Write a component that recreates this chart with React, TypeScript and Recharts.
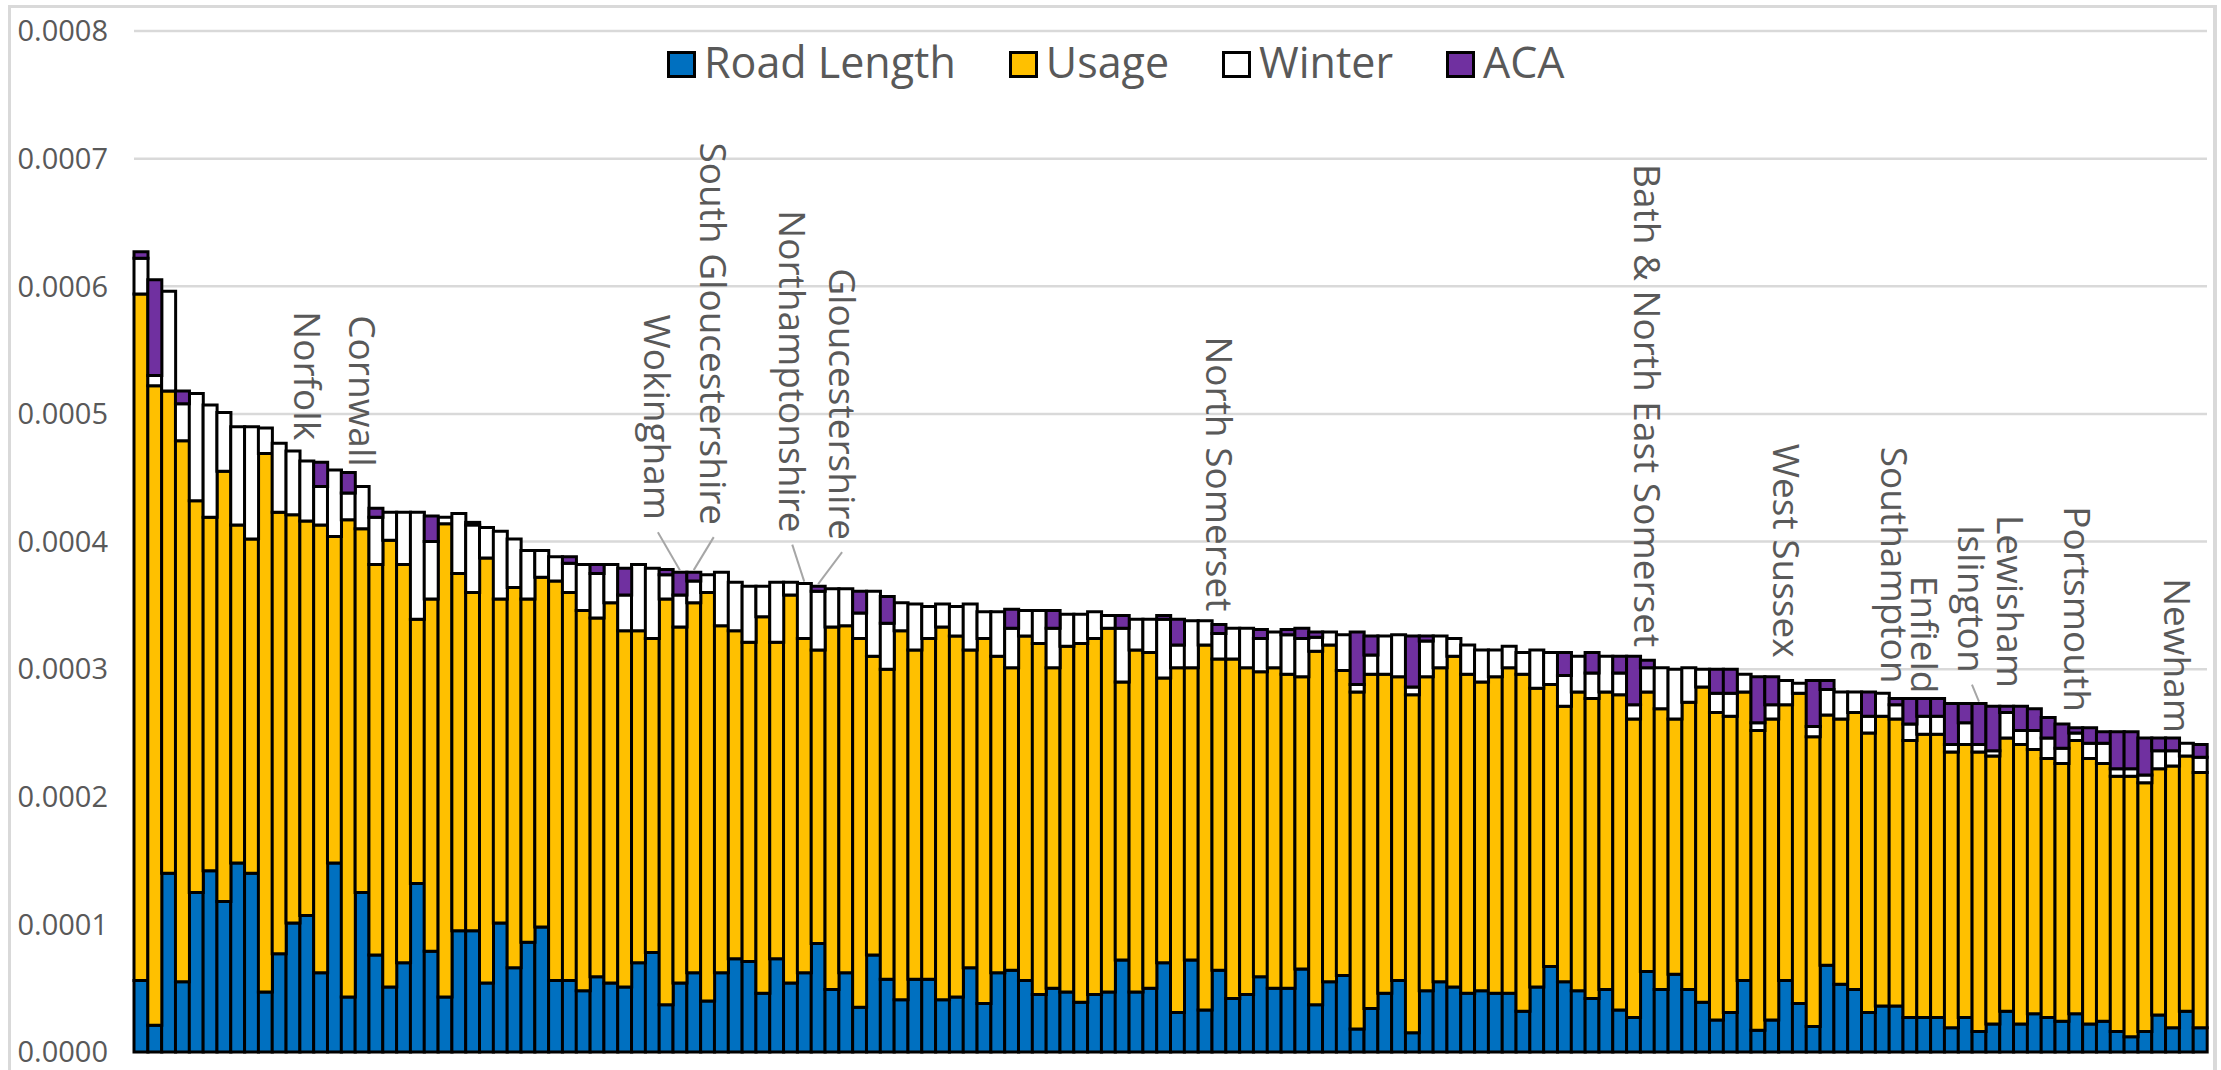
import { Bar, CartesianGrid, ComposedChart, LabelList, Legend, Line, XAxis, YAxis } from 'recharts';

// values, in units of 0.0001
const UNIT = 1e-4;

const roadLength = [
  0.56, 0.21, 1.40, 0.55, 1.25, 1.42, 1.18, 1.48, 1.40, 0.47,
  0.77, 1.01, 1.07, 0.62, 1.48, 0.43, 1.25, 0.76, 0.51, 0.70,
  1.32, 0.79, 0.43, 0.95, 0.95, 0.54, 1.01, 0.66, 0.86, 0.98,
  0.56, 0.56, 0.48, 0.59, 0.54, 0.51, 0.70, 0.78, 0.37, 0.54,
  0.62, 0.40, 0.62, 0.73, 0.71, 0.46, 0.73, 0.54, 0.62, 0.85,
  0.49, 0.62, 0.35, 0.76, 0.57, 0.41, 0.57, 0.57, 0.41, 0.43,
  0.66, 0.38, 0.62, 0.64, 0.56, 0.45, 0.50, 0.47, 0.39, 0.45,
  0.47, 0.72, 0.47, 0.50, 0.70, 0.31, 0.72, 0.33, 0.64, 0.42,
  0.45, 0.59, 0.50, 0.50, 0.65, 0.37, 0.55, 0.60, 0.18, 0.34,
  0.46, 0.56, 0.15, 0.48, 0.55, 0.51, 0.46, 0.48, 0.46, 0.46,
  0.32, 0.51, 0.67, 0.55, 0.48, 0.42, 0.49, 0.33, 0.27, 0.63,
  0.49, 0.61, 0.49, 0.39, 0.25, 0.31, 0.56, 0.17, 0.25, 0.56,
  0.38, 0.20, 0.68, 0.53, 0.49, 0.31, 0.36, 0.36, 0.27, 0.27,
  0.27, 0.19, 0.27, 0.16, 0.22, 0.32, 0.22, 0.30, 0.27, 0.24,
  0.30, 0.22, 0.24, 0.16, 0.12, 0.16, 0.29, 0.19, 0.32, 0.19,
];

const usage = [
  5.38, 5.01, 3.78, 4.24, 3.07, 2.77, 3.37, 2.65, 2.62, 4.22,
  3.46, 3.20, 3.09, 3.51, 2.56, 3.74, 2.85, 3.06, 3.50, 3.12,
  2.07, 2.76, 3.71, 2.80, 2.65, 3.33, 2.54, 2.98, 2.69, 2.74,
  3.13, 3.04, 2.98, 2.81, 2.98, 2.79, 2.60, 2.46, 3.18, 2.79,
  2.90, 3.20, 2.72, 2.57, 2.50, 2.95, 2.48, 3.04, 2.62, 2.30,
  2.84, 2.72, 2.89, 2.34, 2.43, 2.89, 2.58, 2.67, 2.92, 2.83,
  2.49, 2.86, 2.48, 2.37, 2.70, 2.75, 2.51, 2.71, 2.81, 2.79,
  2.85, 2.18, 2.68, 2.63, 2.23, 2.70, 2.29, 2.86, 2.44, 2.66,
  2.56, 2.39, 2.51, 2.46, 2.29, 2.77, 2.64, 2.39, 2.64, 2.62,
  2.50, 2.38, 2.65, 2.46, 2.46, 2.59, 2.50, 2.42, 2.48, 2.55,
  2.64, 2.34, 2.21, 2.16, 2.34, 2.35, 2.33, 2.47, 2.34, 2.19,
  2.20, 2.00, 2.25, 2.47, 2.41, 2.32, 2.26, 2.35, 2.36, 2.16,
  2.43, 2.27, 1.96, 2.08, 2.17, 2.19, 2.27, 2.25, 2.17, 2.22,
  2.22, 2.16, 2.14, 2.19, 2.10, 2.14, 2.19, 2.07, 2.03, 2.02,
  2.14, 2.08, 2.02, 2.00, 2.04, 1.95, 1.93, 2.05, 2.00, 2.00,
];

const winter = [
  0.28, 0.08, 0.78, 0.29, 0.84, 0.88, 0.46, 0.77, 0.88, 0.20,
  0.54, 0.50, 0.47, 0.30, 0.52, 0.21, 0.33, 0.37, 0.22, 0.41,
  0.84, 0.45, 0.05, 0.47, 0.53, 0.24, 0.53, 0.38, 0.38, 0.21,
  0.19, 0.23, 0.36, 0.35, 0.30, 0.28, 0.52, 0.55, 0.19, 0.25,
  0.17, 0.14, 0.42, 0.38, 0.44, 0.24, 0.47, 0.10, 0.43, 0.46,
  0.30, 0.29, 0.20, 0.51, 0.36, 0.22, 0.36, 0.25, 0.18, 0.23,
  0.36, 0.21, 0.35, 0.31, 0.20, 0.26, 0.31, 0.25, 0.23, 0.21,
  0.10, 0.42, 0.24, 0.26, 0.46, 0.18, 0.37, 0.19, 0.20, 0.24,
  0.31, 0.26, 0.28, 0.31, 0.30, 0.11, 0.10, 0.28, 0.06, 0.15,
  0.30, 0.33, 0.06, 0.28, 0.25, 0.14, 0.23, 0.25, 0.21, 0.17,
  0.17, 0.30, 0.25, 0.24, 0.28, 0.20, 0.28, 0.17, 0.11, 0.19,
  0.32, 0.39, 0.27, 0.14, 0.15, 0.18, 0.14, 0.06, 0.11, 0.19,
  0.08, 0.08, 0.20, 0.21, 0.16, 0.13, 0.18, 0.11, 0.13, 0.14,
  0.14, 0.06, 0.17, 0.06, 0.04, 0.20, 0.11, 0.15, 0.16, 0.12,
  0.06, 0.12, 0.16, 0.06, 0.06, 0.06, 0.14, 0.12, 0.10, 0.12,
];

const aca = [
  0.05, 0.75, 0, 0.10, 0, 0, 0, 0, 0, 0,
  0, 0, 0, 0.19, 0, 0.16, 0, 0.07, 0, 0,
  0, 0.20, 0, 0, 0.02, 0, 0, 0, 0, 0,
  0, 0.05, 0, 0.07, 0, 0.21, 0, 0, 0.04, 0.18,
  0.07, 0, 0, 0, 0, 0, 0, 0, 0, 0.04,
  0, 0, 0.17, 0, 0.21, 0, 0, 0, 0, 0,
  0, 0, 0, 0.15, 0, 0, 0.14, 0, 0, 0,
  0, 0.10, 0, 0, 0.03, 0.20, 0, 0, 0.07, 0,
  0, 0.07, 0, 0.04, 0.08, 0.04, 0, 0, 0.41, 0.15,
  0, 0, 0.40, 0.04, 0, 0, 0, 0, 0, 0,
  0, 0, 0, 0.18, 0, 0.16, 0, 0.13, 0.38, 0.06,
  0, 0, 0, 0, 0.19, 0.19, 0, 0.36, 0.22, 0,
  0, 0.36, 0.07, 0, 0, 0.19, 0, 0.05, 0.20, 0.14,
  0.14, 0.32, 0.15, 0.32, 0.35, 0.05, 0.19, 0.17, 0.16, 0.19,
  0.04, 0.12, 0.09, 0.29, 0.29, 0.29, 0.10, 0.10, 0, 0.10,
];

// bar number (1-based, left to right) -> authority name shown on the chart
const namedBars: [number, string][] = [
  [13, 'Norfolk'],
  [17, 'Cornwall'],
  [40, 'Wokingham'],
  [41, 'South Gloucestershire'],
  [49, 'Northamptonshire'],
  [50, 'Gloucestershire'],
  [79, 'North Somerset'],
  [110, 'Bath & North East Somerset'],
  [120, 'West Sussex'],
  [128, 'Southampton'],
  [130, 'Enfield'],
  [134, 'Islington'],
  [136, 'Lewisham'],
  [141, 'Portsmouth'],
  [148, 'Newham'],
];

const seriesOrder = ['roadLength', 'usage', 'winter', 'aca'];

const yTicks = [0, 0.0001, 0.0002, 0.0003, 0.0004, 0.0005, 0.0006, 0.0007, 0.0008];

// how far each name sits from its bar top (px), and whether it has a leader line
const labelLayout: Record<string, { dx: number; lift: number; leader?: boolean }> = {
  Norfolk: { dx: 0, lift: 21 },
  Cornwall: { dx: 0, lift: 20 },
  Wokingham: { dx: -23, lift: 52, leader: true },
  'South Gloucestershire': { dx: 19, lift: 47, leader: true },
  Northamptonshire: { dx: -13, lift: 51, leader: true },
  Gloucestershire: { dx: 23, lift: 46, leader: true },
  'North Somerset': { dx: 0, lift: 13 },
  'Bath & North East Somerset': { dx: -1, lift: 13 },
  'West Sussex': { dx: 0, lift: 23 },
  Southampton: { dx: -2, lift: 15 },
  Enfield: { dx: 0, lift: 5 },
  Islington: { dx: -8, lift: 31, leader: true },
  Lewisham: { dx: 3, lift: 18 },
  Portsmouth: { dx: 1, lift: 16 },
  Newham: { dx: 4, lift: 5 },
};

const names = new Map(namedBars);
const data = roadLength.map((r, i) => ({
  id: i + 1,
  roadLength: r * UNIT,
  usage: usage[i] * UNIT,
  winter: winter[i] * UNIT,
  aca: aca[i] * UNIT,
  total: (r + usage[i] + winter[i] + aca[i]) * UNIT,
  tag: names.get(i + 1) ?? '',
}));

const FONT = '"Open Sans", sans-serif';
const GREY = '#595959';

function renderLegend(props: any) {
  const items = (props.payload ?? [])
    .filter((p: any) => p.type !== 'none' && seriesOrder.includes(p.dataKey))
    .sort((a: any, b: any) => seriesOrder.indexOf(a.dataKey) - seriesOrder.indexOf(b.dataKey));
  return (
    <div style={{ position: 'relative', height: 0 }}>
      <div style={{ position: 'absolute', left: 667, top: 40, display: 'flex', alignItems: 'center', whiteSpace: 'nowrap' }}>
        {items.map((p: any, i: number) => (
          <div key={p.value} style={{ display: 'flex', alignItems: 'center', marginRight: i < items.length - 1 ? 53 : 0 }}>
            <span
              style={{
                display: 'inline-block',
                width: 29,
                height: 27,
                boxSizing: 'border-box',
                border: '3px solid #000',
                background: p.color,
                marginRight: 8,
                marginTop: 5,
              }}
            />
            <span style={{ fontFamily: FONT, fontSize: 43, lineHeight: 1, color: GREY }}>{p.value}</span>
          </div>
        ))}
      </div>
    </div>
  );
}

function renderTag(props: any) {
  const { x, y, value } = props;
  if (!value) return null;
  const lay = labelLayout[value];
  const bx = Number(x);
  const by = Number(y);
  const cx = bx + lay.dx;
  const end = by - lay.lift;
  return (
    <g>
      {lay.leader && <line x1={cx + 1} y1={end + 12} x2={bx} y2={by - 2} stroke="#a6a6a6" strokeWidth={2} />}
      <text
        x={cx}
        y={end}
        transform={`rotate(90 ${cx} ${end})`}
        textAnchor="end"
        dy="0.34em"
        fill={GREY}
        fontSize={37}
        fontFamily={FONT}
      >
        {value}
      </text>
    </g>
  );
}

export default function App() {
  return (
    <div style={{ position: 'absolute', left: 0, top: 0, width: 2221, height: 1070, overflow: 'hidden', background: '#fff' }}>
      <div
        style={{
          position: 'absolute',
          left: 8,
          top: 5,
          width: 2209,
          height: 1100,
          boxSizing: 'border-box',
          borderStyle: 'solid',
          borderColor: '#d9d9d9',
          borderWidth: '3px 4px 3px 3px',
        }}
      />
      <div style={{ position: 'absolute', left: 0, top: 0 }}>
        <ComposedChart
          width={2221}
          height={1070}
          data={data}
          margin={{ top: 31, right: 14, bottom: 18, left: 0 }}
          barCategoryGap={0}
          barGap={0}
        >
          <CartesianGrid vertical={false} stroke="#d9d9d9" strokeWidth={2.5} />
          <XAxis dataKey="id" hide />
          <YAxis
            domain={[0, 0.0008]}
            ticks={yTicks}
            interval={0}
            width={134}
            axisLine={false}
            tickLine={false}
            tickSize={0}
            tickMargin={26}
            tick={{ fill: GREY, fontSize: 29, fontFamily: FONT }}
            tickFormatter={(v: number) => v.toFixed(4)}
          />
          <Legend
            verticalAlign="top"
            content={renderLegend}
            itemSorter={null}
            wrapperStyle={{ top: 0, left: 0, width: 2221, height: 0 }}
          />
          <Bar dataKey="roadLength" name="Road Length" stackId="a" fill="#0070C0" stroke="#000" strokeWidth={3} isAnimationActive={false} />
          <Bar dataKey="usage" name="Usage" stackId="a" fill="#FFC000" stroke="#000" strokeWidth={3} isAnimationActive={false} />
          <Bar dataKey="winter" name="Winter" stackId="a" fill="#FFFFFF" stroke="#000" strokeWidth={3} isAnimationActive={false} />
          <Bar dataKey="aca" name="ACA" stackId="a" fill="#7030A0" stroke="#000" strokeWidth={3} isAnimationActive={false} />
          <Line
            dataKey="total"
            stroke="none"
            strokeWidth={0}
            dot={false}
            activeDot={false}
            legendType="none"
            isAnimationActive={false}
          >
            <LabelList dataKey="tag" content={renderTag} />
          </Line>
        </ComposedChart>
      </div>
    </div>
  );
}
